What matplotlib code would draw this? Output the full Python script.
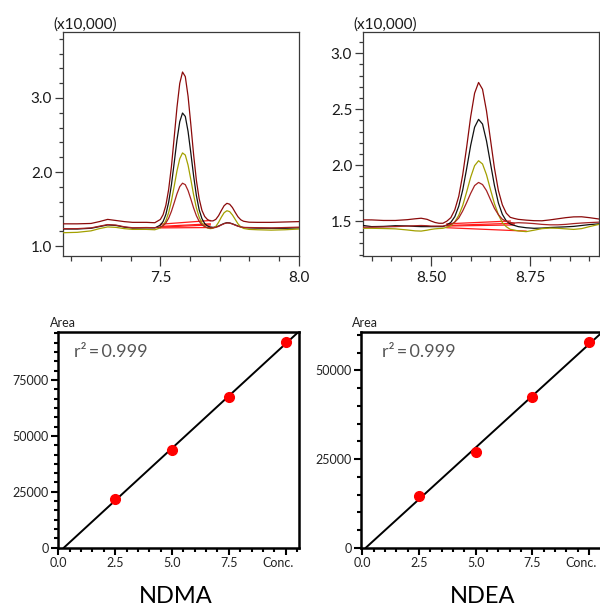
import numpy as np
import matplotlib
matplotlib.use("Agg")
import matplotlib.pyplot as plt
from matplotlib.ticker import FixedLocator
from matplotlib.transforms import ScaledTranslation

plt.rcParams['font.family'] = ['Lato', 'DejaVu Sans']

# ---------------- NDMA chromatogram (x10,000) ----------------
ndma_rt = [7.15, 7.20, 7.25, 7.28, 7.31, 7.34, 7.37, 7.40, 7.45, 7.48,
           7.50, 7.51, 7.52, 7.53, 7.54, 7.55, 7.56, 7.57, 7.58, 7.59,
           7.60, 7.61, 7.62, 7.63, 7.64, 7.65, 7.66, 7.67, 7.68,
           7.69, 7.70, 7.71, 7.72, 7.73, 7.74, 7.75, 7.76, 7.77, 7.78,
           7.79, 7.80, 7.82, 7.85, 7.90, 7.95, 8.00]
ndma_A = [1.300, 1.300, 1.305, 1.330, 1.360, 1.345, 1.330, 1.320, 1.320, 1.315,
          1.359, 1.424, 1.551, 1.765, 2.075, 2.470, 2.874, 3.198, 3.351, 3.289,
          3.023, 2.640, 2.234, 1.887, 1.639, 1.482, 1.399, 1.358, 1.340,
          1.340, 1.360, 1.410, 1.480, 1.545, 1.577, 1.565, 1.520, 1.455, 1.395,
          1.355, 1.335, 1.322, 1.320, 1.320, 1.325, 1.330]
ndma_B = [1.230, 1.230, 1.240, 1.262, 1.285, 1.278, 1.255, 1.242, 1.245, 1.245,
          1.282, 1.332, 1.428, 1.592, 1.828, 2.125, 2.433, 2.680, 2.797, 2.751,
          2.548, 2.256, 1.947, 1.682, 1.489, 1.370, 1.303, 1.271, 1.257,
          1.252, 1.258, 1.270, 1.288, 1.305, 1.315, 1.312, 1.300, 1.285, 1.270,
          1.258, 1.250, 1.245, 1.242, 1.240, 1.240, 1.245]
ndma_C = [1.180, 1.185, 1.205, 1.235, 1.258, 1.252, 1.235, 1.225, 1.225, 1.220,
          1.245, 1.278, 1.343, 1.452, 1.610, 1.809, 2.015, 2.180, 2.258, 2.229,
          2.093, 1.898, 1.691, 1.514, 1.390, 1.310, 1.265, 1.244, 1.235,
          1.240, 1.265, 1.320, 1.390, 1.450, 1.477, 1.465, 1.420, 1.360, 1.300,
          1.260, 1.238, 1.225, 1.220, 1.215, 1.220, 1.230]
ndma_D = [1.235, 1.235, 1.245, 1.268, 1.290, 1.283, 1.260, 1.247, 1.250, 1.247,
          1.255, 1.274, 1.312, 1.376, 1.469, 1.585, 1.706, 1.803, 1.849, 1.829,
          1.749, 1.635, 1.513, 1.410, 1.334, 1.287, 1.261, 1.248, 1.243,
          1.245, 1.252, 1.265, 1.285, 1.302, 1.312, 1.310, 1.298, 1.282, 1.268,
          1.258, 1.252, 1.250, 1.248, 1.245, 1.250, 1.255]
ndma_base_x0 = [7.50, 7.50, 7.50, 7.50]
ndma_base_x1 = [7.68, 7.68, 7.685, 7.68]
ndma_base_y0 = [1.295, 1.265, 1.245, 1.255]
ndma_base_y1 = [1.345, 1.300, 1.250, 1.285]

# ---------------- NDEA chromatogram (x10,000) ----------------
ndea_rt = [8.329, 8.35, 8.38, 8.41, 8.44, 8.46, 8.475, 8.49, 8.50, 8.51, 8.52, 8.53,
           8.54, 8.55, 8.56, 8.57, 8.58, 8.59, 8.60, 8.61, 8.62, 8.63,
           8.64, 8.65, 8.66, 8.67, 8.68, 8.69, 8.70, 8.71,
           8.72, 8.74, 8.76, 8.78, 8.80, 8.82, 8.84, 8.86, 8.88, 8.90, 8.924]
ndea_A = [1.510, 1.510, 1.505, 1.505, 1.512, 1.520, 1.525, 1.515, 1.500, 1.487, 1.480, 1.480,
          1.499, 1.530, 1.600, 1.721, 1.914, 2.162, 2.431, 2.643, 2.739, 2.678,
          2.485, 2.230, 1.975, 1.773, 1.645, 1.570, 1.533, 1.523,
          1.515, 1.508, 1.503, 1.502, 1.510, 1.520, 1.530, 1.537, 1.538, 1.530, 1.518]
ndea_B = [1.460, 1.450, 1.452, 1.458, 1.456, 1.452, 1.450, 1.450, 1.450, 1.450, 1.450, 1.450,
          1.465, 1.488, 1.539, 1.632, 1.778, 1.970, 2.175, 2.339, 2.409, 2.367,
          2.217, 2.017, 1.819, 1.662, 1.560, 1.501, 1.473, 1.461,
          1.450, 1.440, 1.435, 1.437, 1.442, 1.445, 1.448, 1.452, 1.460, 1.468, 1.475]
ndea_C = [1.435, 1.435, 1.433, 1.430, 1.420, 1.412, 1.410, 1.418, 1.425, 1.430, 1.433, 1.435,
          1.444, 1.459, 1.492, 1.551, 1.639, 1.761, 1.891, 1.995, 2.039, 2.010,
          1.914, 1.782, 1.656, 1.557, 1.486, 1.449, 1.426, 1.419,
          1.412, 1.405, 1.418, 1.432, 1.437, 1.435, 1.430, 1.425, 1.432, 1.450, 1.470]
ndea_D = [1.445, 1.445, 1.447, 1.450, 1.455, 1.458, 1.460, 1.458, 1.455, 1.455, 1.455, 1.455,
          1.461, 1.470, 1.490, 1.527, 1.590, 1.666, 1.747, 1.817, 1.845, 1.826,
          1.772, 1.692, 1.614, 1.557, 1.516, 1.498, 1.487, 1.482,
          1.485, 1.482, 1.477, 1.470, 1.466, 1.466, 1.470, 1.477, 1.482, 1.486, 1.490]
ndea_base_x0 = [8.54, 8.54, 8.54, 8.54]
ndea_base_x1 = [8.70, 8.71, 8.74, 8.71]
ndea_base_y0 = [1.475, 1.455, 1.440, 1.460]
ndea_base_y1 = [1.500, 1.465, 1.410, 1.480]

# ---------------- Calibration curves ----------------
conc = [2.5, 5.0, 7.5, 10.0]
ndma_area = [21900, 43530, 67380, 91830]
ndea_area = [14620, 26980, 42450, 58020]
conc_labels = ["0.0", "2.5", "5.0", "7.5", "Conc."]
r2_text = "r\u00b2\u2009=\u20090.999"
titles = ["NDMA", "NDEA"]

trace_colors = ['#8b0a0a', '#111111', '#a3a000', '#a52222']
frame_col = '#3a3a3a'

fig = plt.figure(figsize=(6.0, 6.08), dpi=100)


def chrom(ax, rt, traces, bx0, bx1, by0, by1, xlim, ylim, xmaj, xlabels, xmin, ymaj, ymin):
    for tr, c in zip(traces, trace_colors):
        ax.plot(rt, tr, color=c, lw=0.9, zorder=3, solid_joinstyle='round')
    for a0, a1, b0, b1 in zip(bx0, bx1, by0, by1):
        ax.plot([a0, a1], [b0, b1], color='#ff1a1a', lw=0.9, zorder=2)
    ax.set_xlim(*xlim)
    ax.set_ylim(*ylim)
    ax.xaxis.set_major_locator(FixedLocator(xmaj))
    ax.set_xticklabels(xlabels)
    ax.xaxis.set_minor_locator(FixedLocator(xmin))
    ax.yaxis.set_major_locator(FixedLocator(ymaj))
    ax.yaxis.set_minor_locator(FixedLocator(ymin))
    ax.tick_params(axis='x', which='major', length=7, width=0.9, color=frame_col,
                   labelsize=11, pad=4, direction='out', labelcolor='#1a1a1a')
    ax.tick_params(axis='x', which='minor', length=3.5, width=0.9, color=frame_col, direction='out')
    ax.tick_params(axis='y', which='major', length=6, width=0.9, color=frame_col,
                   labelsize=11, pad=2, direction='out', labelcolor='#1a1a1a')
    ax.tick_params(axis='y', which='minor', length=3, width=0.9, color=frame_col, direction='out')
    for s in ax.spines.values():
        s.set_color(frame_col)
        s.set_linewidth(0.9)
    ax.text(-0.04, 1.012, "(x10,000)", transform=ax.transAxes, ha='left', va='baseline',
            fontsize=11, color='#1a1a1a')


ax1 = fig.add_axes([0.1055, 0.5789, 0.3928, 0.3690])
chrom(ax1, ndma_rt, [ndma_A, ndma_B, ndma_C, ndma_D],
      ndma_base_x0, ndma_base_x1, ndma_base_y0, ndma_base_y1,
      (7.15, 8.0), (0.865, 3.896), [7.5, 8.0], ["7.5", "8.0"],
      [7.5 - 3 * 0.107, 7.5 - 2 * 0.107, 7.5 - 0.107, 7.5 + 0.107, 7.5 + 2 * 0.107,
       7.5 + 3 * 0.107, 7.5 + 4 * 0.107],
      [1.0, 2.0, 3.0], [1.2, 1.4, 1.6, 1.8, 2.2, 2.4, 2.6, 2.8, 3.2, 3.4, 3.6, 3.8])
ax1.set_yticklabels(["1.0", "2.0", "3.0"])

ax2 = fig.add_axes([0.6055, 0.5789, 0.3928, 0.3690])
chrom(ax2, ndea_rt, [ndea_A, ndea_B, ndea_C, ndea_D],
      ndea_base_x0, ndea_base_x1, ndea_base_y0, ndea_base_y1,
      (8.329, 8.924), (1.187, 3.193), [8.50, 8.75], ["8.50", "8.75"],
      [8.35, 8.40, 8.45, 8.55, 8.60, 8.65, 8.70, 8.80, 8.85, 8.90],
      [1.5, 2.0, 2.5, 3.0], [1.2, 1.3, 1.4, 1.6, 1.7, 1.8, 1.9, 2.1, 2.2, 2.3, 2.4,
                             2.6, 2.7, 2.8, 2.9, 3.1])
ax2.set_yticklabels(["1.5", "2.0", "2.5", "3.0"])


def calib(ax, area, xlim, ylim, ymaj, ymaj_labels, ymin, r2x, area_x, title, title_x, right_spine):
    k, b = np.polyfit(conc, area, 1)
    x0 = -b / k
    xs = np.array([x0, xlim[1] + 0.05])
    ax.plot(xs, k * xs + b, color='black', lw=1.4, zorder=2, clip_on=True)
    ax.plot(conc, area, 'o', color='#ff0000', ms=7, zorder=3, clip_on=False)
    ax.set_xlim(*xlim)
    ax.set_ylim(*ylim)
    ax.xaxis.set_major_locator(FixedLocator([0, 2.5, 5.0, 7.5, 10.0]))
    ax.set_xticklabels(conc_labels)
    ax.xaxis.set_minor_locator(FixedLocator([v * 0.5 for v in range(1, 22) if v % 5 != 0]))
    ax.yaxis.set_major_locator(FixedLocator(ymaj))
    ax.set_yticklabels(ymaj_labels)
    ax.yaxis.set_minor_locator(FixedLocator(ymin))
    ax.tick_params(axis='both', which='major', length=5, width=1.5, color='black',
                   labelsize=9, pad=1.5, direction='out', labelcolor='#222222')
    ax.tick_params(axis='both', which='minor', length=3, width=1.5, color='black', direction='out')
    for lab in ax.get_xticklabels():
        if lab.get_text() == "Conc.":
            lab.set_transform(lab.get_transform() +
                              ScaledTranslation(-8 / 100, 0, fig.dpi_scale_trans))
    for name, s in ax.spines.items():
        s.set_color('black')
        s.set_linewidth(1.8)
    ax.spines['right'].set_visible(right_spine)
    ax.text(area_x, 1.012, "Area", transform=ax.transAxes, ha='center', va='bottom',
            fontsize=9, color='#222222')
    ax.text(r2x, 0.905, r2_text, transform=ax.transAxes, ha='left', va='center',
            fontsize=13, color='#555555')
    fig.text(title_x, 0.019, title, ha='center', va='center', fontsize=17, color='black')


ax3 = fig.add_axes([0.0962, 0.0992, 0.4022, 0.3553])
ndma_minor = [25000 / 6 * i for i in range(1, 24) if i % 6 != 0]
calib(ax3, ndma_area, (-0.03, 10.59), (0, 96600), [0, 25000, 50000, 75000],
      ["0", "25000", "50000", "75000"], ndma_minor, 0.068, 0.02, titles[0], 176 / 600, True)

ax4 = fig.add_axes([0.6017, 0.0992, 0.3983, 0.3553])
ndea_minor = [5000 * i for i in range(1, 13) if i % 5 != 0]
calib(ax4, ndea_area, (-0.06, 10.49), (0, 60940), [0, 25000, 50000],
      ["0", "25000", "50000"], ndea_minor, 0.089, 0.017, titles[1], 483 / 600, False)

fig.savefig("out.png", dpi=100)
